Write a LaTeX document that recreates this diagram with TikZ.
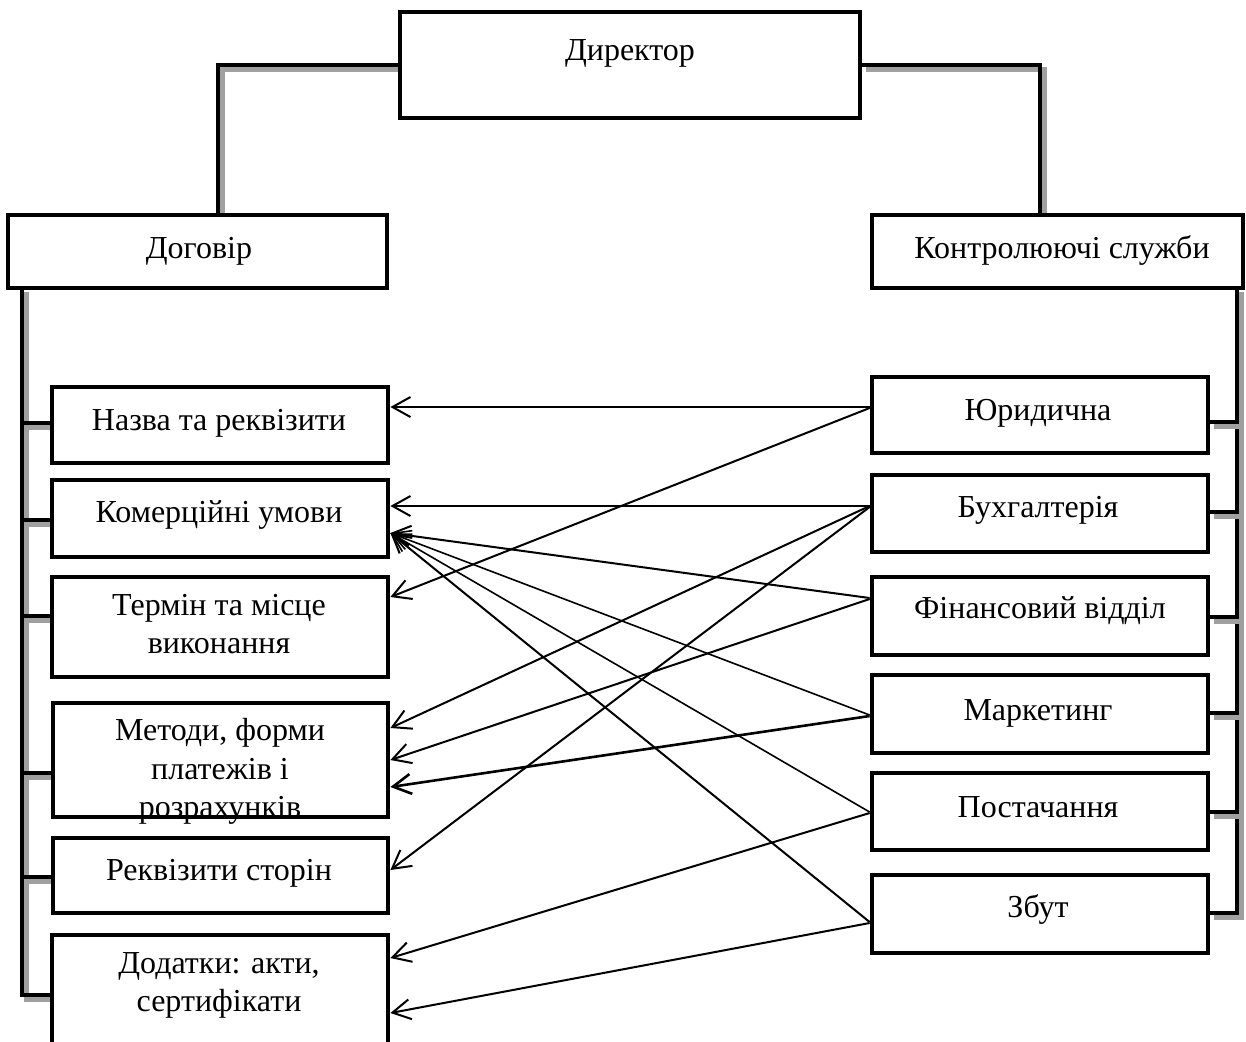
\documentclass[tikz,border=0pt]{standalone}
\usepackage{fontspec}
\setmainfont{Liberation Serif}
\usetikzlibrary{arrows.meta,backgrounds}
\definecolor{shadowgray}{RGB}{160,160,160}
\newcommand{\shadowline}[1]{\draw[shad] #1;\draw[conn] #1;}
\begin{document}
\begin{tikzpicture}[x=0.5pt,y=-0.5pt,
  box/.style={draw=black,line width=2.4pt,fill=white,rectangle,inner sep=0pt},
  txt/.style={font=\fontsize{16}{19.25}\selectfont,align=center,inner sep=0pt,
    execute at begin node=\strut,execute at end node=\strut},
  conn/.style={line width=2.2pt,black},
  shad/.style={line width=2.5pt,shadowgray,transform canvas={shift={(2pt,-2pt)}}},
  arr/.style={line width=1pt,-{Straight Barb[length=9pt,width=10pt]}}]
\useasboundingbox (0,0) rectangle (1246,1041);
\clip (0,0) rectangle (1246,1041);

% boxes
\node[box,minimum width=230pt,minimum height=53pt] (dir) at (630,65) {};
\node[box,minimum width=189.5pt,minimum height=36.5pt] (dog) at (197.5,251.5) {};
\node[box,minimum width=185.5pt,minimum height=36.5pt] (ks) at (1057.5,251.5) {};
\node[box,minimum width=168pt,minimum height=38pt] (naz) at (220,425) {};
\node[box,minimum width=168pt,minimum height=38.5pt] (kom) at (220,518.5) {};
\node[box,minimum width=168pt,minimum height=50pt] (ter) at (220,627) {};
\node[box,minimum width=167.5pt,minimum height=57pt] (met) at (220.5,760) {};
\node[box,minimum width=167.5pt,minimum height=37.5pt] (rek) at (220.5,875.5) {};
\node[box,minimum width=168pt,minimum height=62.5pt] (dod) at (220,997.5) {};
\node[box,minimum width=168pt,minimum height=38pt] (jur) at (1040,415) {};
\node[box,minimum width=168pt,minimum height=38.5pt] (buh) at (1040,513.5) {};
\node[box,minimum width=168pt,minimum height=39pt] (fin) at (1040,616) {};
\node[box,minimum width=168pt,minimum height=39pt] (mar) at (1040,714) {};
\node[box,minimum width=168pt,minimum height=38.5pt] (pos) at (1040,811.5) {};
\node[box,minimum width=168pt,minimum height=39pt] (zbu) at (1040,914) {};

% connectors
\coordinate (dl) at (218,65);
\coordinate (dr) at (1040,65);
\coordinate (lbt) at (22,288);
\coordinate (lbb) at (22,995);
\coordinate (rbt) at (1237,288);
\coordinate (rbb) at (1237,913);
\begin{scope}[on background layer]
\shadowline{(dir.west) -- (dl) -- (dl |- dog.north)}
\shadowline{(dir.east) -- (dr) -- (dr |- ks.north)}
\shadowline{(lbt) -- (lbb) -- (dod.west |- lbb)}
\shadowline{(lbt |- 0,423) -- (naz.west |- 0,423)}
\shadowline{(lbt |- 0,520) -- (kom.west |- 0,520)}
\shadowline{(lbt |- 0,616) -- (ter.west |- 0,616)}
\shadowline{(lbt |- 0,773) -- (met.west |- 0,773)}
\shadowline{(lbt |- 0,877) -- (rek.west |- 0,877)}
\shadowline{(rbt) -- (rbb) -- (zbu.east |- rbb)}
\shadowline{(rbt |- 0,422) -- (jur.east |- 0,422)}
\shadowline{(rbt |- 0,512) -- (buh.east |- 0,512)}
\shadowline{(rbt |- 0,617) -- (fin.east |- 0,617)}
\shadowline{(rbt |- 0,713) -- (mar.east |- 0,713)}
\shadowline{(rbt |- 0,812) -- (pos.east |- 0,812)}
\end{scope}

% texts
\node[txt] (tdir) at (630,52.3) {Директор};
\node[txt] (tdog) at (199,250.3) {Договір};
\node[txt] (tks) at (1062,250.3) {Контролюючі служби};
\node[txt] (tnaz) at (219,422.3) {Назва та реквізити};
\node[txt] (tkom) at (219,514.3) {Комерційні умови};
\node[txt] (tter) at (219,629.8) {Термін та місце\\виконання};
\node[txt] (tmet) at (220,773.8) {Методи, форми\\платежів і\\розрахунків};
\node[txt] (trek) at (219,872.3) {Реквізити сторін};
\node[txt] (tdod) at (219,987.8) {Додатки: акти,\\сертифікати};
\node[txt] (tjur) at (1038,412.3) {Юридична};
\node[txt] (tbuh) at (1038,509.3) {Бухгалтерія};
\node[txt] (tfin) at (1040,610.3) {Фінансовий відділ};
\node[txt] (tmar) at (1038,712.3) {Маркетинг};
\node[txt] (tpos) at (1038,809.3) {Постачання};
\node[txt] (tzbu) at (1038,909.3) {Збут};

% arrows
\draw[arr] (jur.west |- 0,407) -- (naz.east |- 0,407);
\draw[arr] (jur.west |- 0,408) -- (ter.east |- 0,597);
\draw[arr] (buh.west |- 0,506) -- (kom.east |- 0,506);
\draw[arr] (buh.west |- 0,506) -- (met.east |- 0,728);
\draw[arr] (buh.west |- 0,507) -- (rek.east |- 0,870);
\draw[arr] (fin.west |- 0,598) -- (kom.east |- 0,533);
\draw[arr] (fin.west |- 0,599) -- (met.east |- 0,760);
\draw[arr,line width=0.8pt] (mar.west |- 0,715) -- (kom.east |- 0,533);
\draw[arr,line width=1.3pt] (mar.west |- 0,716) -- (met.east |- 0,787);
\draw[arr,line width=0.8pt] (pos.west |- 0,812) -- (kom.east |- 0,533);
\draw[arr] (pos.west |- 0,813) -- (dod.east |- 0,958);
\draw[arr] (zbu.west |- 0,922) -- (kom.east |- 0,533);
\draw[arr] (zbu.west |- 0,923) -- (dod.east |- 0,1013);
\end{tikzpicture}
\end{document}
